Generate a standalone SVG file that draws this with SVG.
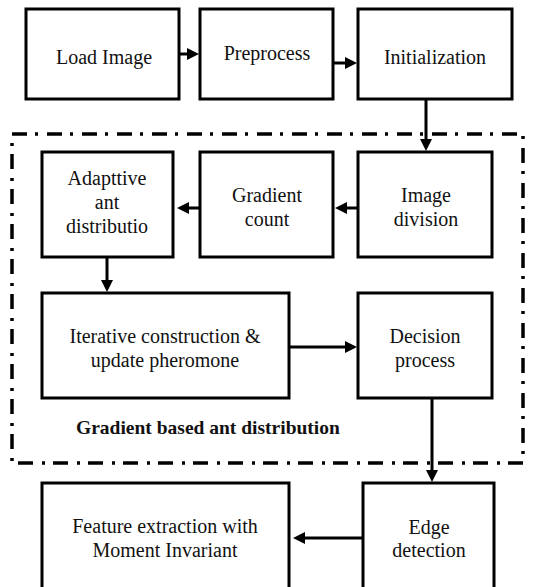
<svg xmlns="http://www.w3.org/2000/svg" width="540" height="587" viewBox="0 0 540 587">
<style>
.box{fill:#fff;stroke:#000;stroke-width:3}
.t{font-size:20px;fill:#111;text-anchor:middle}
.b{font-size:19.5px;font-weight:bold;fill:#111}
.c{fill:none;stroke:#000;stroke-width:3}
.frame{fill:none;stroke:#000;stroke-width:3.5;stroke-dasharray:15 8 3 9}
</style>
<defs>
<marker id="ah" markerUnits="userSpaceOnUse" markerWidth="12" markerHeight="12" viewBox="0 0 12 12" refX="8" refY="6" orient="auto">
<path d="M0,0 L12,6 L0,12 z" fill="#000"/>
</marker>
</defs>
<rect class="frame" x="12" y="134" width="511" height="329"/>
<g font-family="Liberation Serif, DejaVu Serif, serif">
<g id="load"><rect class="box" x="26" y="9" width="153" height="90"/><text class="t" x="104" y="64">Load Image</text></g>
<g id="preprocess"><rect class="box" x="200" y="9" width="133" height="90"/><text class="t" x="267" y="60">Preprocess</text></g>
<g id="init"><rect class="box" x="358" y="9" width="154" height="90"/><text class="t" x="435" y="64">Initialization</text></g>
<g id="adaptive"><rect class="box" x="42" y="152" width="131" height="105"/><text class="t" x="107" y="185">Adapttive</text><text class="t" x="107" y="209">ant</text><text class="t" x="107" y="233">distributio</text></g>
<g id="gradient"><rect class="box" x="200" y="152" width="133" height="105"/><text class="t" x="267" y="202">Gradient</text><text class="t" x="267" y="226">count</text></g>
<g id="division"><rect class="box" x="358" y="152" width="134" height="105"/><text class="t" x="426" y="202">Image</text><text class="t" x="426" y="226">division</text></g>
<g id="iterative"><rect class="box" x="42" y="293" width="247" height="105"/><text class="t" x="165" y="343">Iterative construction &amp;</text><text class="t" x="165" y="367">update pheromone</text></g>
<g id="decision"><rect class="box" x="358" y="293" width="134" height="105"/><text class="t" x="425" y="343">Decision</text><text class="t" x="425" y="367">process</text></g>
<g id="feature"><rect class="box" x="42" y="483" width="247" height="112"/><text class="t" x="165" y="533">Feature extraction with</text><text class="t" x="165" y="557">Moment Invariant</text></g>
<g id="edge"><rect class="box" x="363" y="483" width="131" height="112"/><text class="t" x="429" y="534">Edge</text><text class="t" x="429" y="557">detection</text></g>
<g id="label"><text class="b" x="76" y="434">Gradient based ant distribution</text></g>
</g>
<g id="connectors">
<line class="c" x1="179" y1="54" x2="195" y2="54" marker-end="url(#ah)"/>
<line class="c" x1="333" y1="63" x2="353" y2="63" marker-end="url(#ah)"/>
<line class="c" x1="426" y1="99" x2="426" y2="147" marker-end="url(#ah)"/>
<line class="c" x1="358" y1="208" x2="339" y2="208" marker-end="url(#ah)"/>
<line class="c" x1="200" y1="208" x2="181" y2="208" marker-end="url(#ah)"/>
<line class="c" x1="107" y1="257" x2="107" y2="288" marker-end="url(#ah)"/>
<line class="c" x1="289" y1="347" x2="353" y2="347" marker-end="url(#ah)"/>
<line class="c" x1="432" y1="398" x2="432" y2="478" marker-end="url(#ah)"/>
<line class="c" x1="363" y1="538" x2="297" y2="538" marker-end="url(#ah)"/>
</g>
</svg>
